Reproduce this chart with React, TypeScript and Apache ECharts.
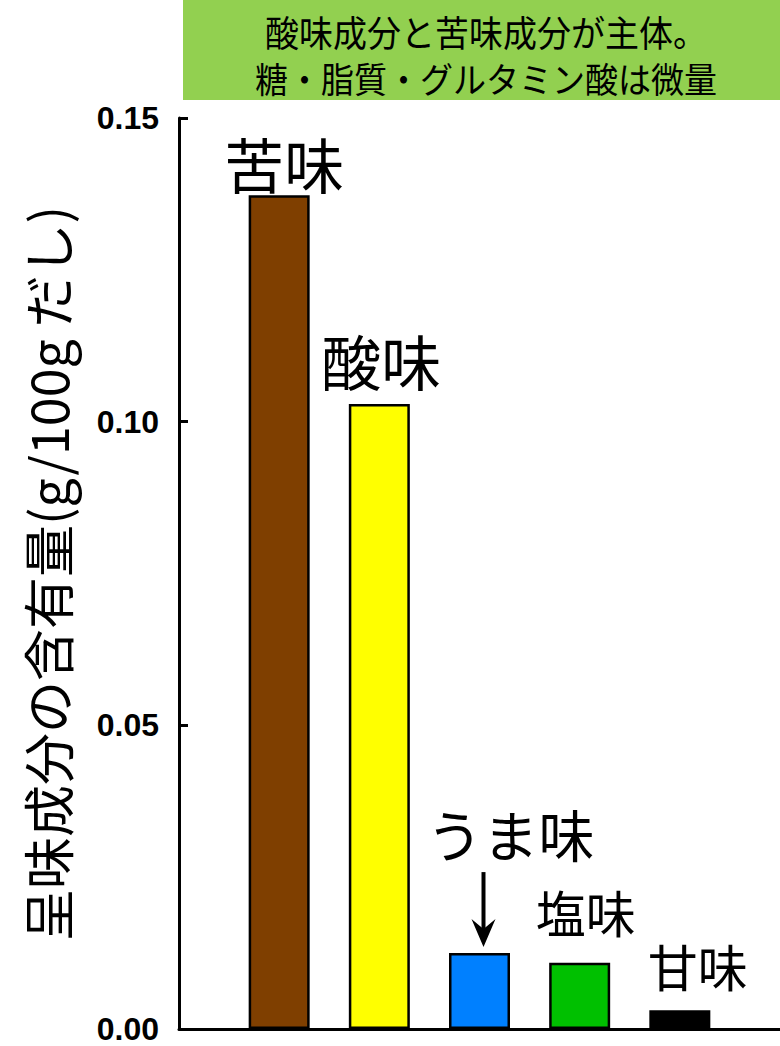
import React, { useEffect, useRef } from "react";
import * as echarts from "echarts";

const categories = ["", "苦味", "酸味", "うま味", "塩味", "甘味", ""];
const values: (number | null)[] = [null, 0.1373, 0.1029, 0.0125, 0.0109, 0.0031, null];
const barColors = ["#000000", "#7F3F00", "#FFFF00", "#0080FF", "#00C000", "#000000", "#000000"];
const labelSizes = [0, 60, 60, 56, 50, 50, 0];
const labelOffsets: [number, number][] = [[0, 0], [5, -3], [2, -15], [31, -93], [6, -27], [18, -20], [0, 0]];
const yTitle = "呈味成分の含有量(g/100g だし)";
const noteLines = ["酸味成分と苦味成分が主体。", "糖・脂質・グルタミン酸は微量"];
const arrowTarget = "うま味";

const CJK = "'Noto Sans CJK JP', 'Noto Sans CJK SC', sans-serif";

export default function App() {
  const ref = useRef<HTMLDivElement>(null);
  useEffect(() => {
    if (!ref.current) return;
    const chart = echarts.init(ref.current, null, { renderer: "svg" });
    const data = values.map((v, i) => ({
      value: v,
      itemStyle: { color: barColors[i], borderColor: "#000", borderWidth: 2.5 },
      label: {
        show: v !== null,
        position: "top",
        distance: 0,
        formatter: categories[i],
        fontSize: labelSizes[i],
        fontFamily: CJK,
        color: "#000",
        offset: labelOffsets[i],
      },
    }));
    chart.setOption({
      animation: false,
      grid: { left: 179, width: 606, top: 118, height: 911 },
      xAxis: {
        type: "category",
        data: categories,
        boundaryGap: false,
        axisLine: { show: true, lineStyle: { color: "#000", width: 3 } },
        axisTick: { show: false },
        axisLabel: { show: false },
        splitLine: { show: false },
      },
      yAxis: {
        type: "value",
        min: 0,
        max: 0.15,
        interval: 0.05,
        name: yTitle,
        nameLocation: "middle",
        nameRotate: 90,
        nameGap: 107,
        nameTextStyle: { fontSize: 52, fontFamily: CJK, color: "#000" },
        axisLine: { show: true, lineStyle: { color: "#000", width: 3 } },
        axisTick: { show: true, inside: true, length: 9, lineStyle: { color: "#000", width: 3 } },
        axisLabel: {
          formatter: (v: number) => v.toFixed(2),
          fontSize: 32,
          fontWeight: "bold",
          fontFamily: "'Liberation Sans', Arial, sans-serif",
          color: "#000",
          margin: 20,
        },
        splitLine: { show: false },
      },
      series: [
        {
          type: "bar",
          data,
          barWidth: 61,
        },
      ],
    });
    const idx = categories.indexOf(arrowTarget);
    const p = chart.convertToPixel({ seriesIndex: 0 }, [idx, values[idx] as number]) as number[];
    const ax = p[0] + 4;
    const tipY = p[1] - 6;
    chart.setOption({
      graphic: [
        {
          type: "rect",
          shape: { x: 183, y: 0, width: 597, height: 100 },
          style: { fill: "#92D050" },
          silent: true,
        },
        {
          type: "text",
          x: 486,
          y: 31,
          scaleY: 1.08,
          style: {
            text: noteLines[0],
            font: `34px ${CJK}`,
            fill: "#000",
            align: "center",
            verticalAlign: "middle",
          },
        },
        {
          type: "text",
          x: 486,
          y: 77,
          scaleY: 1.08,
          style: {
            text: noteLines[1],
            font: `33px ${CJK}`,
            fill: "#000",
            align: "center",
            verticalAlign: "middle",
          },
        },
        {
          type: "line",
          shape: { x1: ax, y1: tipY - 75, x2: ax, y2: tipY - 15 },
          style: { stroke: "#000", lineWidth: 4 },
        },
        {
          type: "polygon",
          shape: {
            points: [
              [ax - 12, tipY - 28],
              [ax, tipY - 18],
              [ax + 12, tipY - 28],
              [ax, tipY],
            ],
          },
          style: { fill: "#000" },
        },
      ],
    });
    return () => chart.dispose();
  }, []);
  return (
    <div
      ref={ref}
      style={{ position: "absolute", left: 0, top: 0, width: 780, height: 1046, background: "#fff" }}
    />
  );
}
